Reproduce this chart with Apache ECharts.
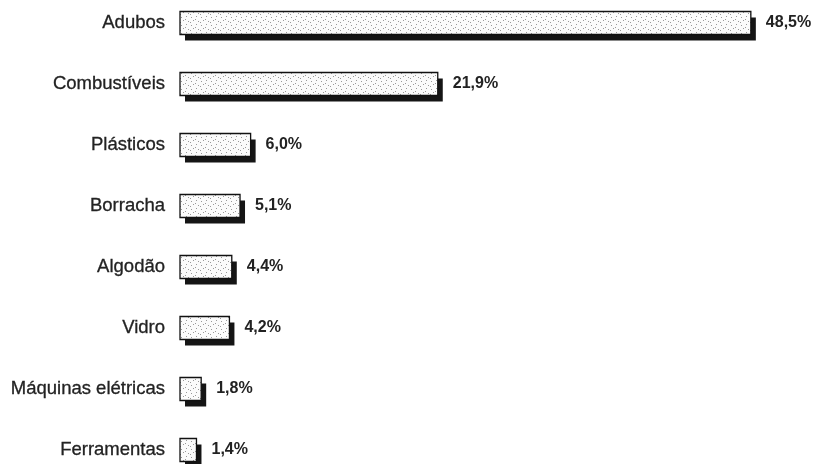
<!DOCTYPE html>
<html>
<head>
<meta charset="utf-8">
<script src="https://cdn.jsdelivr.net/npm/echarts@6/dist/echarts.min.js"></script>
<style>html,body{margin:0;padding:0;background:#fff;}#c{width:816px;height:464px;}</style>
</head>
<body>
<div id="c"></div>
<script>
const categories = ['Adubos','Combustíveis','Plásticos','Borracha','Algodão','Vidro','Máquinas elétricas','Ferramentas'];
const values = [48.5, 21.9, 6.0, 5.1, 4.4, 4.2, 1.8, 1.4];

// stipple texture for the bars
const pc = document.createElement('canvas');
pc.width = 10; pc.height = 8;
const px = pc.getContext('2d');
px.fillStyle = '#fbfbfb'; px.fillRect(0,0,10,8);
px.fillStyle = '#999999';
[[1,1],[6,0],[3,4],[8,5],[5,3],[0,6]].forEach(p => px.fillRect(p[0],p[1],1,1));

const FONT = 'Liberation Sans, Arial, sans-serif';
const BAR_H = 23, SHX = 5, SHY = 6;

const chart = echarts.init(document.getElementById('c'), null, {renderer:'canvas'});
chart.setOption({
  animation: false,
  backgroundColor: '#ffffff',
  grid: {left: 180, right: 47.5, top: 23, bottom: 14},
  xAxis: {type:'value', min:0, max:50, show:false},
  yAxis: {
    type:'category', data: categories, inverse:true, boundaryGap:false,
    axisLine:{show:false}, axisTick:{show:false}, splitLine:{show:false},
    axisLabel:{color:'#222', fontSize:18.5, fontFamily:FONT, margin:15,
      textBorderColor:'#222', textBorderWidth:0.3}
  },
  series: [{
    type:'custom',
    data: values.map((v,i) => [v, i]),
    encode: {x: 0, y: 1},
    renderItem: function (params, api) {
      const v = api.value(0), idx = api.value(1);
      const p0 = api.coord([0, idx]);
      const p1 = api.coord([v, idx]);
      const x = p0[0], y = p0[1] - BAR_H / 2, w = p1[0] - p0[0];
      return {
        type: 'group',
        children: [
          {type:'rect', shape:{x:x+SHX, y:y+SHY, width:w, height:BAR_H}, style:{fill:'#151515'}},
          {type:'rect', shape:{x:x, y:y, width:w, height:BAR_H},
            style:{fill:{image: pc, repeat:'repeat'}, stroke:'#111', lineWidth:1.3}},
          {type:'text', x: p1[0] + 15, y: p1[1],
            style:{text: v.toFixed(1).replace('.', ',') + '%', fill:'#222',
              font: 'bold 16px ' + FONT, textVerticalAlign:'middle', textAlign:'left'}}
        ]
      };
    }
  }]
});
</script>
</body>
</html>
